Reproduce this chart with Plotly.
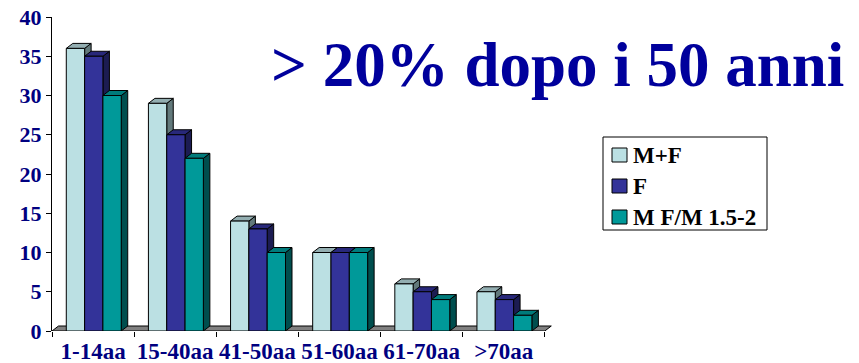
import plotly.graph_objects as go

# Age bands and the three series (percent)
age_groups = ["1-14aa", "15-40aa", "41-50aa", "51-60aa", "61-70aa", ">70aa"]
series_names = ["M+F", "F", "M F/M 1.5-2"]
mf_values = [36, 29, 14, 10, 6, 5]
f_values = [35, 25, 13, 10, 5, 4]
m_values = [30, 22, 10, 10, 4, 2]
y_tick_values = [0, 5, 10, 15, 20, 25, 30, 35, 40]
title_text = "&gt; 20% dopo i 50 anni"

series_values = [mf_values, f_values, m_values]
front_colors = ["#BBE0E3", "#333399", "#009999"]
top_colors = ["#93AEB1", "#28287A", "#007B7B"]
side_colors = ["#62797B", "#1C1C52", "#004E4E"]

# Canvas / plot-area geometry (pixels)
W, H = 859, 363
ML, MR, MT, MB = 52, 306, 17, 32
PW, PH = W - ML - MR, H - MT - MB
X_RANGE = [-0.5, 5.6]
Y_RANGE = [0, 40]

# Bar layout in category units, plus the pseudo-3D depth
bar_w = 0.223
first_off = -0.326
unit_px_x = PW / (X_RANGE[1] - X_RANGE[0])
unit_px_y = PH / (Y_RANGE[1] - Y_RANGE[0])
dx = 6.5 / unit_px_x
dy = 5.0 / unit_px_y

SERIF = "Liberation Serif, Times New Roman, serif"
NAVY = "#000080"


def px_to_paper(px, py):
    return (px - ML) / PW, (H - MB - py) / PH


fig = go.Figure()
shapes = []

# Floor of the chart
n = len(age_groups)
shapes.append(dict(
    type="path", xref="x", yref="y", layer="below",
    path=f"M -0.5,0 L {n - 0.5},0 L {n - 0.5 + dx},{dy} L {-0.5 + dx},{dy} Z",
    fillcolor="#808080", line=dict(color="#000000", width=1),
))

for j, (name, vals) in enumerate(zip(series_names, series_values)):
    off = first_off + j * bar_w
    fig.add_trace(go.Bar(
        x=age_groups, y=vals, name=name,
        offset=off, width=bar_w,
        marker=dict(color=front_colors[j], line=dict(color="#000000", width=1)),
        showlegend=False, hoverinfo="x+y+name",
    ))

# Side and top faces, drawn left to right so each front face covers its neighbour
for i in range(n):
    for j, vals in enumerate(series_values):
        v = vals[i]
        xl = i + first_off + j * bar_w
        xr = xl + bar_w
        shapes.append(dict(
            type="path", xref="x", yref="y", layer="below",
            path=f"M {xr},0 L {xr},{v} L {xr + dx},{v + dy} L {xr + dx},{dy} Z",
            fillcolor=side_colors[j], line=dict(color="#000000", width=1),
        ))
        shapes.append(dict(
            type="path", xref="x", yref="y", layer="below",
            path=f"M {xl},{v} L {xr},{v} L {xr + dx},{v + dy} L {xl + dx},{v + dy} Z",
            fillcolor=top_colors[j], line=dict(color="#000000", width=1),
        ))

# Legend box with swatches
annotations = []
bx0, by0 = px_to_paper(603, 137)
bx1, by1 = px_to_paper(767, 230)
shapes.append(dict(type="rect", xref="paper", yref="paper",
                   x0=bx0, y0=by1, x1=bx1, y1=by0,
                   line=dict(color="#000000", width=1), fillcolor="#FFFFFF"))
row_centers = [155, 186, 217]
for j, name in enumerate(series_names):
    cy = row_centers[j]
    sx0, sy0 = px_to_paper(612, cy - 7)
    sx1, sy1 = px_to_paper(627, cy + 7)
    shapes.append(dict(type="rect", xref="paper", yref="paper",
                       x0=sx0, y0=sy1, x1=sx1, y1=sy0,
                       fillcolor=front_colors[j], line=dict(color="#000000", width=1)))
    tx, ty = px_to_paper(631, cy)
    annotations.append(dict(
        text=name, xref="paper", yref="paper", x=tx, y=ty,
        xanchor="left", yanchor="middle", showarrow=False,
        font=dict(family=SERIF, size=23, color="#000000", weight="bold"),
    ))

tx, ty = px_to_paper(557, 65)
annotations.append(dict(
    text=title_text, xref="paper", yref="paper", x=tx, y=ty,
    xanchor="center", yanchor="middle", showarrow=False,
    font=dict(family=SERIF, size=63, color="#00009C", weight="bold"),
))

fig.update_layout(
    width=W, height=H, autosize=False,
    margin=dict(l=ML, r=MR, t=MT, b=MB, pad=0),
    paper_bgcolor="#FFFFFF", plot_bgcolor="#FFFFFF",
    barmode="overlay",
    shapes=shapes, annotations=annotations,
    xaxis=dict(
        type="category", range=X_RANGE, tickson="boundaries",
        ticks="outside", ticklen=5, tickcolor="#000000", tickwidth=1,
        tickangle=0, ticklabelstandoff=4,
        showline=False, showgrid=False, zeroline=False, automargin=False,
        tickfont=dict(family=SERIF, size=23, color=NAVY, weight="bold"),
        fixedrange=True,
    ),
    yaxis=dict(
        range=Y_RANGE, tickvals=y_tick_values,
        ticks="outside", ticklen=5, tickcolor="#000000", tickwidth=1,
        showline=True, linecolor="#000000", linewidth=1,
        showgrid=False, zeroline=False, automargin=False,
        tickfont=dict(family=SERIF, size=22, color=NAVY, weight="bold"),
        fixedrange=True,
    ),
)

fig.write_html("out.html")
